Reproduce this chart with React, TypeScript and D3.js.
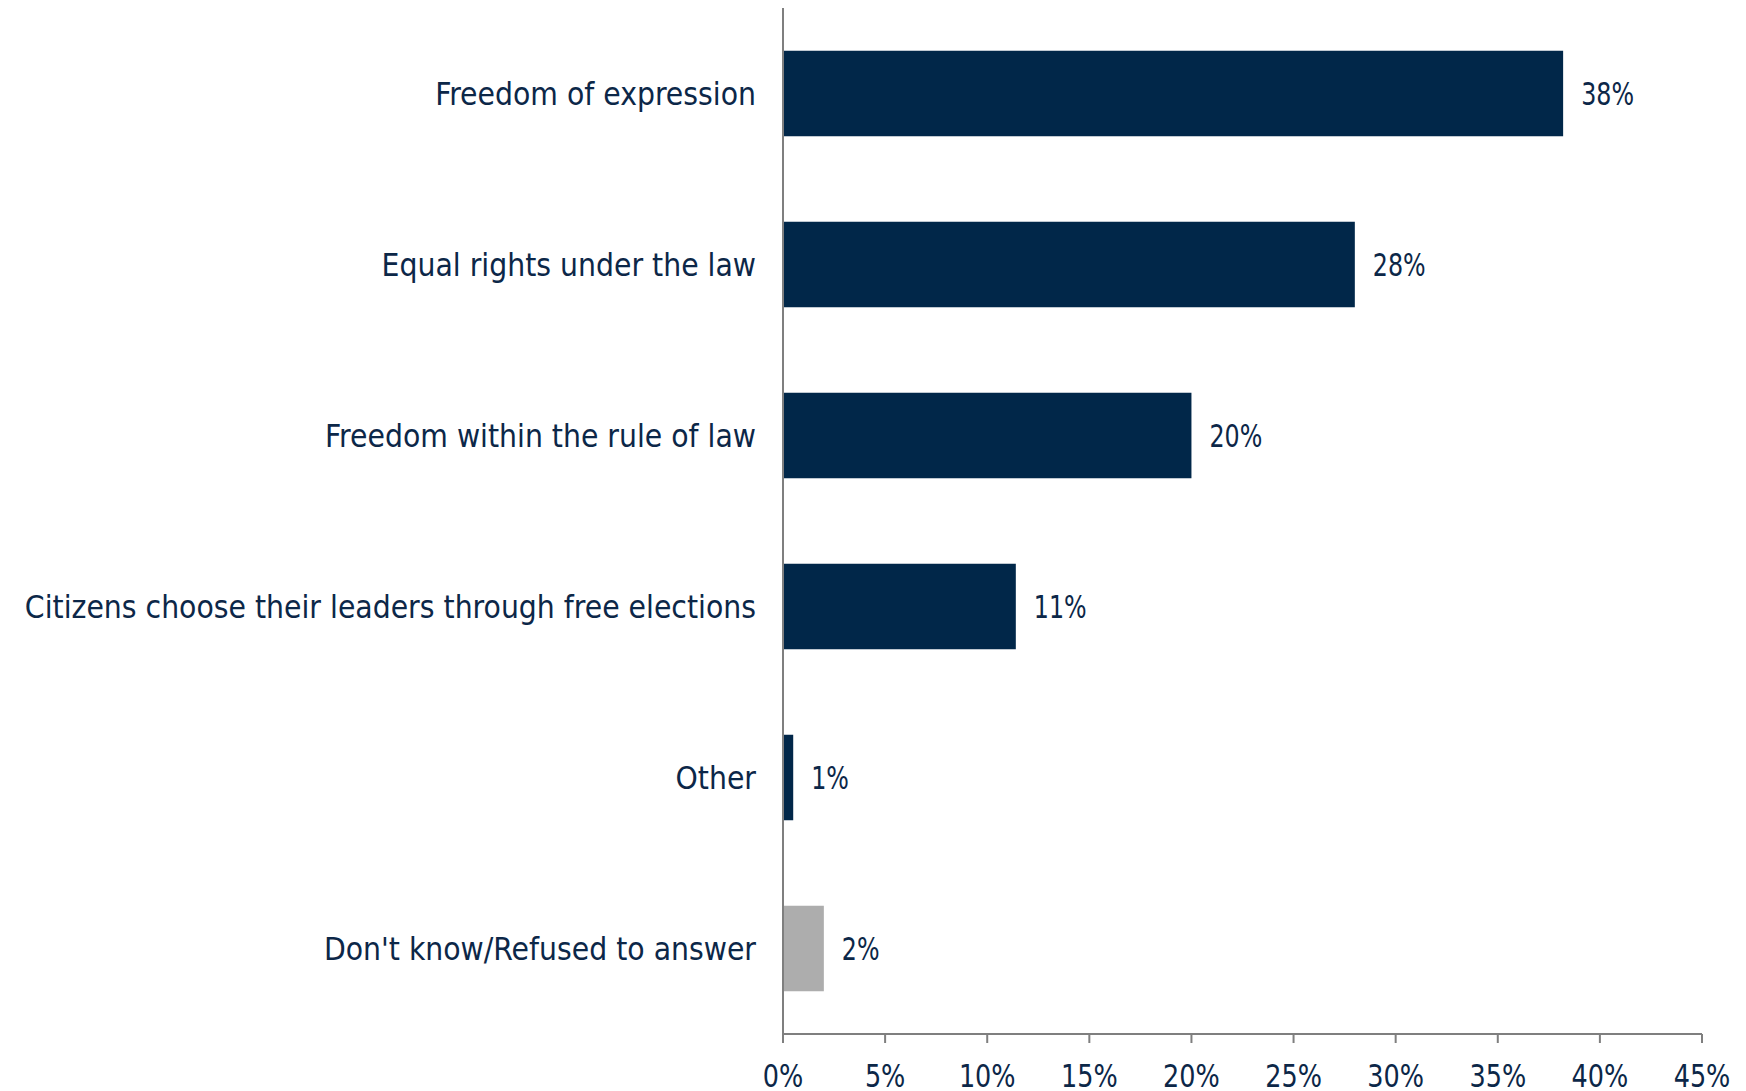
import React from "react";
import * as d3 from "d3";

const categories = [
  "Freedom of expression",
  "Equal rights under the law",
  "Freedom within the rule of law",
  "Citizens choose their leaders through free elections",
  "Other",
  "Don't know/Refused to answer",
];
const values = [38.2, 28.0, 20.0, 11.4, 0.5, 2.0];
const valueLabels = ["38%", "28%", "20%", "11%", "1%", "2%"];
const isGrey = [false, false, false, false, false, true];
const xTicks = [0, 5, 10, 15, 20, 25, 30, 35, 40, 45];

const W = 1746;
const H = 1091;
const FONT = "'DejaVu Sans Condensed', 'DejaVu Sans', sans-serif";
const TEXT = "#0c2748";
const FS = 31.5;

export default function App() {
  const left = 783;
  const right = 1702;
  const top = 8;
  const bottom = 1034;
  const x = d3.scaleLinear().domain([0, 45]).range([left, right]);
  const y = d3.scaleBand<string>().domain(categories).range([top, bottom]).paddingInner(0.5).paddingOuter(0.25);

  return (
    <svg width={W} height={H} style={{ position: "absolute", left: 0, top: 0, background: "#fff" }}>
      {categories.map((c, i) => {
        const y0 = y(c)!;
        const bw = y.bandwidth();
        return (
          <g key={c}>
            <rect x={x(0)} y={y0} width={x(values[i]) - x(0)} height={bw} fill={isGrey[i] ? "#adadad" : "#012749"} />
            <text x={left - 27} y={y0 + bw / 2} dy="0.36em" textAnchor="end" fontFamily={FONT} fontSize={FS} fill={TEXT}>
              {c}
            </text>
            <text
              transform={`translate(${x(values[i]) + 18},${y0 + bw / 2}) scale(0.84,1)`}
              dy="0.36em"
              textAnchor="start"
              fontFamily={FONT}
              fontSize={FS}
              fill={TEXT}
            >
              {valueLabels[i]}
            </text>
          </g>
        );
      })}
      <line x1={left} x2={left} y1={top} y2={bottom} stroke="#7f7f7f" strokeWidth={2} />
      <line x1={left} x2={right} y1={bottom} y2={bottom} stroke="#7f7f7f" strokeWidth={2} />
      {xTicks.map((t) => (
        <g key={t}>
          <line x1={x(t)} x2={x(t)} y1={bottom} y2={bottom + 9} stroke="#7f7f7f" strokeWidth={2} />
          <text
            transform={`translate(${x(t)},1087) scale(0.9,1)`}
            textAnchor="middle"
            fontFamily={FONT}
            fontSize={FS}
            fill={TEXT}
          >
            {t}%
          </text>
        </g>
      ))}
    </svg>
  );
}
